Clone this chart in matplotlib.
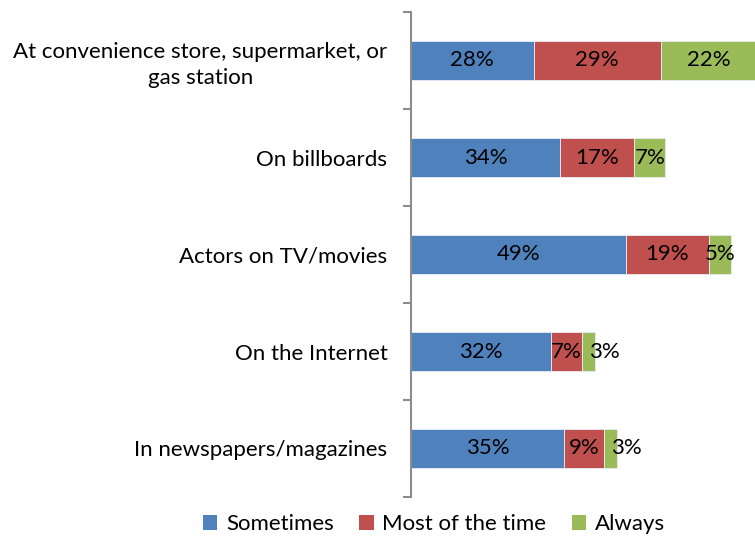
import matplotlib
matplotlib.use("Agg")
import matplotlib.pyplot as plt
from matplotlib.patches import Patch

categories = ["At convenience store, supermarket, or\ngas station",
              "On billboards",
              "Actors on TV/movies",
              "On the Internet",
              "In newspapers/magazines"]
series_names = ["Sometimes", "Most of the time", "Always"]
sometimes = [28, 34, 49, 32, 35]
most_time = [29, 17, 19, 7, 9]
always = [22, 7, 5, 3, 3]
colors = ["#4F81BD", "#C0504D", "#9BBB59"]

plt.rcParams['font.family'] = ['Lato', 'DejaVu Sans']

W, H = 755, 537
FS = 16
fig = plt.figure(figsize=(W / 100, H / 100), dpi=100)
ax = fig.add_axes([411 / W, 1 - 497 / H, (W - 411) / W, (497 - 12) / H])

n = len(categories)
ys = list(range(n))
left = [0] * n
for vals, col in zip([sometimes, most_time, always], colors):
    ax.barh(ys, vals, left=left, height=0.4, color=col, edgecolor="#E8EEF7",
            linewidth=0.6)
    for y, l, v in zip(ys, left, vals):
        cx = l + v / 2
        if v <= 3:
            ax.text(cx + 0.1, y, f"{v}%", ha="left", va="center", fontsize=FS,
                    color="black")
        else:
            ax.text(cx, y, f"{v}%", ha="center", va="center", fontsize=FS,
                    color="black")
    left = [a + b for a, b in zip(left, vals)]

ax.set_xlim(0, (W - 411) / 4.38)
ax.set_ylim(n - 0.5, -0.5)
ax.set_yticks(ys)
ax.set_yticklabels(categories, fontsize=FS)
ax.tick_params(axis="y", length=0, pad=17)
ax.set_yticks([i - 0.5 for i in range(n + 1)], minor=True)
ax.tick_params(axis="y", which="minor", length=6, width=1.5, color="#8C8C8C")
ax.set_xticks([])
for s in ["top", "right", "bottom"]:
    ax.spines[s].set_visible(False)
ax.spines["left"].set_color("#8C8C8C")
ax.spines["left"].set_linewidth(1.5)
for lbl in ax.get_yticklabels():
    lbl.set_multialignment("center")
    lbl.set_linespacing(1.35)

handles = [Patch(facecolor=c, edgecolor="none") for c in colors]
fig.legend(handles, series_names, loc="center", bbox_to_anchor=(434 / W, 1 - 524 / H),
           ncol=3, frameon=False, fontsize=FS, handlelength=0.65, handleheight=0.65,
           handletextpad=0.4, columnspacing=1.15)

fig.savefig("out.png", dpi=100)
